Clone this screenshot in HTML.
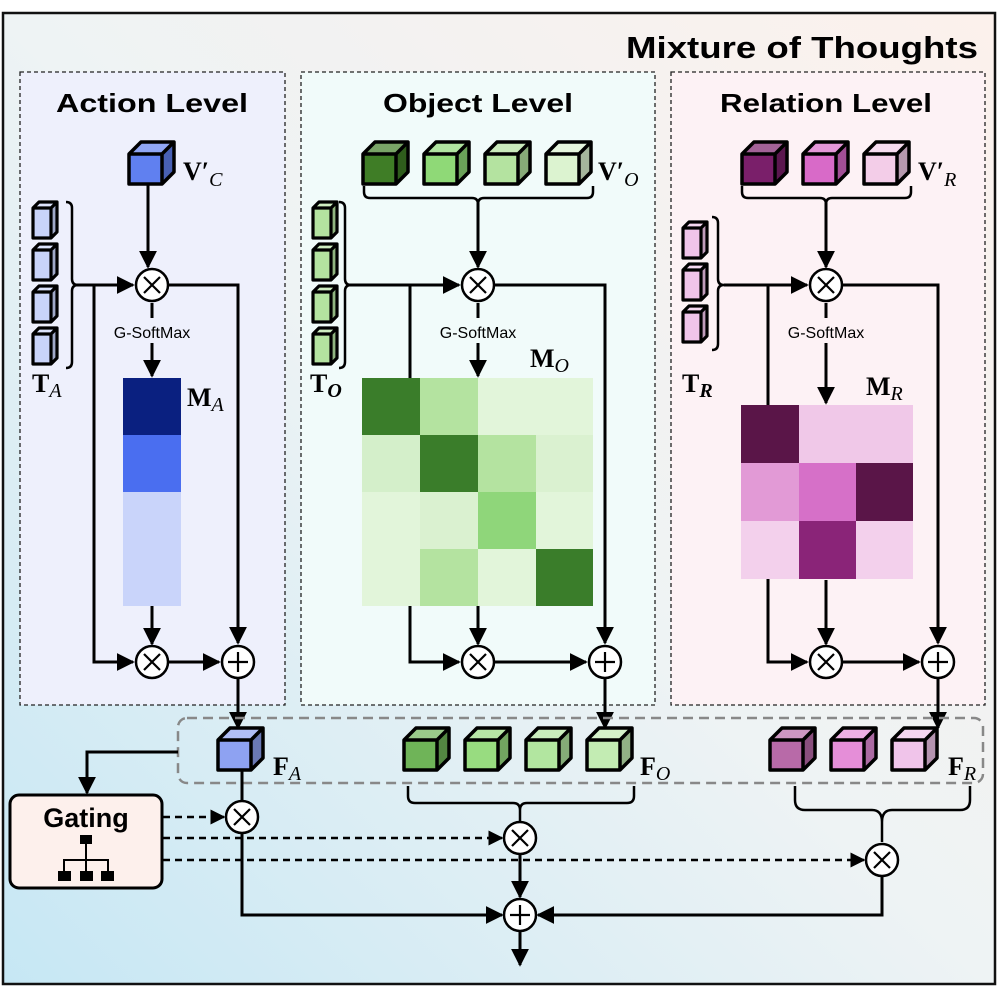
<!DOCTYPE html>
<html><head><meta charset="utf-8"><style>html,body{margin:0;padding:0;background:#fff}svg{display:block}</style></head>
<body>
<svg width="998" height="998" viewBox="0 0 998 998" xmlns="http://www.w3.org/2000/svg" font-family="Liberation Sans, sans-serif">
<defs>
<linearGradient id="bg" x1="1" y1="0" x2="0" y2="1">
<stop offset="0" stop-color="#fcf1ec"/><stop offset="0.5" stop-color="#eef3f4"/><stop offset="1" stop-color="#c6e7f4"/>
</linearGradient>
<marker id="ar" viewBox="0 0 10 10" refX="9" refY="5" markerWidth="6" markerHeight="6" orient="auto"><path d="M0,0L10,5L0,10z" fill="#000"/></marker>
<symbol id="cube" overflow="visible">
<path d="M0,12 L12,0 L45,0 L33,12z" fill="currentColor"/>
<path d="M0,12 L12,0 L45,0 L33,12z" fill="#fff" opacity="0.3"/>
<path d="M33,12 L45,0 L45,30 L33,42z" fill="currentColor"/>
<path d="M33,12 L45,0 L45,30 L33,42z" fill="#000" opacity="0.25"/>
<rect x="0" y="12" width="33" height="30" fill="currentColor"/>
<path d="M0,12 L12,0 L45,0 L45,30 L33,42 L0,42z M0,12 L33,12 L45,0 M33,12 L33,42" fill="none" stroke="#000" stroke-width="3.5" stroke-linejoin="round"/>
</symbol>
<symbol id="tc" overflow="visible">
<path d="M0,6 L6,0 L24,0 L18,6z" fill="currentColor"/>
<path d="M0,6 L6,0 L24,0 L18,6z" fill="#fff" opacity="0.35"/>
<path d="M18,6 L24,0 L24,30 L18,36z" fill="currentColor"/>
<path d="M18,6 L24,0 L24,30 L18,36z" fill="#000" opacity="0.2"/>
<rect x="0" y="6" width="18" height="30" fill="currentColor"/>
<path d="M0,6 L6,0 L24,0 L24,30 L18,36 L0,36z M0,6 L18,6 L24,0 M18,6 L18,36" fill="none" stroke="#000" stroke-width="3.2" stroke-linejoin="round"/>
</symbol>
<symbol id="ot" overflow="visible"><circle cx="0" cy="0" r="16" fill="#fff" stroke="#000" stroke-width="2.5"/><path d="M-8,-8L8,8M8,-8L-8,8" stroke="#000" stroke-width="2.2"/></symbol>
<symbol id="op" overflow="visible"><circle cx="0" cy="0" r="16" fill="#fff" stroke="#000" stroke-width="2.5"/><path d="M-10,0H10M0,-10V10" stroke="#000" stroke-width="2.2"/></symbol>
</defs>
<rect x="3" y="13" width="992" height="971" fill="url(#bg)" stroke="#111" stroke-width="2.5"/>
<text x="978" y="58" font-size="31" font-weight="bold" text-anchor="end" textLength="352" lengthAdjust="spacingAndGlyphs">Mixture of Thoughts</text>

<rect x="20" y="72" width="265" height="633" fill="#eef0fc" stroke="#222" stroke-width="1.3" stroke-dasharray="4,3"/>
<rect x="301" y="72" width="354" height="633" fill="#f1fbfa" stroke="#222" stroke-width="1.3" stroke-dasharray="4,3"/>
<rect x="671" y="72" width="314" height="633" fill="#fdf2f5" stroke="#222" stroke-width="1.3" stroke-dasharray="4,3"/>
<g font-size="26" font-weight="bold" text-anchor="middle">
<text x="152" y="112" textLength="192" lengthAdjust="spacingAndGlyphs">Action Level</text>
<text x="478" y="112" textLength="190" lengthAdjust="spacingAndGlyphs">Object Level</text>
<text x="826" y="112" textLength="212" lengthAdjust="spacingAndGlyphs">Relation Level</text>
</g>

<g stroke="#000" stroke-width="3" fill="none">
<line x1="148" y1="185" x2="148" y2="267" marker-end="url(#ar)"/>
<path d="M76,285 H133" marker-end="url(#ar)"/>
<path d="M94,285 V662 H133" marker-end="url(#ar)"/>
<path d="M169,285 H238 V643" marker-end="url(#ar)"/>
<line x1="152" y1="303" x2="152" y2="318" />
<line x1="152" y1="343" x2="152" y2="376" marker-end="url(#ar)"/>
<line x1="152" y1="606" x2="152" y2="644" marker-end="url(#ar)"/>
<line x1="169" y1="662" x2="219" y2="662" marker-end="url(#ar)"/>
<line x1="238" y1="679" x2="238" y2="728" marker-end="url(#ar)"/>
<line x1="478" y1="200" x2="478" y2="267" marker-end="url(#ar)"/>
<path d="M346,285 H459" marker-end="url(#ar)"/>
<path d="M410,285 V662 H459" marker-end="url(#ar)"/>
<path d="M495,285 H605 V643" marker-end="url(#ar)"/>
<line x1="478" y1="303" x2="478" y2="318"/>
<line x1="478" y1="343" x2="478" y2="376" marker-end="url(#ar)"/>
<line x1="478" y1="606" x2="478" y2="644" marker-end="url(#ar)"/>
<line x1="495" y1="662" x2="586" y2="662" marker-end="url(#ar)"/>
<line x1="605" y1="679" x2="605" y2="728" marker-end="url(#ar)"/>
<line x1="826" y1="200" x2="826" y2="267" marker-end="url(#ar)"/>
<path d="M724,285 H807" marker-end="url(#ar)"/>
<path d="M768,285 V662 H807" marker-end="url(#ar)"/>
<path d="M843,285 H938 V643" marker-end="url(#ar)"/>
<line x1="826" y1="303" x2="826" y2="318"/>
<line x1="826" y1="343" x2="826" y2="403" marker-end="url(#ar)"/>
<line x1="826" y1="580" x2="826" y2="644" marker-end="url(#ar)"/>
<line x1="843" y1="662" x2="919" y2="662" marker-end="url(#ar)"/>
<line x1="938" y1="679" x2="938" y2="728" marker-end="url(#ar)"/>
<path d="M66,202 Q72,202 72,208 V279 Q72,285 78,285 Q72,285 72,291 V362 Q72,368 66,368" stroke-width="2.5"/>
<path d="M339,202 Q345,202 345,208 V279 Q345,285 351,285 Q345,285 345,291 V362 Q345,368 339,368" stroke-width="2.5"/>
<path d="M712,217 Q718,217 718,223 V279 Q718,285 724,285 Q718,285 718,291 V344 Q718,350 712,350" stroke-width="2.5"/>
<path d="M364,186 V192 Q364,198 370,198 H472 Q478,198 478,204 Q478,198 484,198 H587 Q593,198 593,192 V186" stroke-width="2.5"/>
<path d="M742,186 V192 Q742,198 748,198 H820 Q826,198 826,204 Q826,198 832,198 H905 Q911,198 911,192 V186" stroke-width="2.5"/>
</g>

<g font-size="16" text-anchor="middle"><text x="152" y="338">G-SoftMax</text><text x="478" y="338">G-SoftMax</text><text x="826" y="338">G-SoftMax</text></g>

<rect x="123" y="378" width="58" height="57" fill="#0a2080"/>
<rect x="123" y="435" width="58" height="57" fill="#4a6ef0"/>
<rect x="123" y="492" width="58" height="114" fill="#c9d4fa"/>
<g>
<rect x="362" y="378" width="58" height="57" fill="#3a7d2a"/><rect x="420" y="378" width="58" height="57" fill="#b4e3a0"/><rect x="478" y="378" width="58" height="57" fill="#e2f5da"/><rect x="536" y="378" width="57" height="57" fill="#e2f5da"/>
<rect x="362" y="435" width="58" height="57" fill="#d4efca"/><rect x="420" y="435" width="58" height="57" fill="#3a7d2a"/><rect x="478" y="435" width="58" height="57" fill="#b4e3a0"/><rect x="536" y="435" width="57" height="57" fill="#daf1d0"/>
<rect x="362" y="492" width="58" height="57" fill="#e2f5da"/><rect x="420" y="492" width="58" height="57" fill="#daf1d0"/><rect x="478" y="492" width="58" height="57" fill="#8fd67a"/><rect x="536" y="492" width="57" height="57" fill="#e2f5da"/>
<rect x="362" y="549" width="58" height="57" fill="#e2f5da"/><rect x="420" y="549" width="58" height="57" fill="#b4e3a0"/><rect x="478" y="549" width="58" height="57" fill="#e2f5da"/><rect x="536" y="549" width="57" height="57" fill="#3a7d2a"/>
</g>
<g>
<rect x="741" y="405" width="58" height="58" fill="#5a1548"/><rect x="799" y="405" width="57" height="58" fill="#f0c8e8"/><rect x="856" y="405" width="57" height="58" fill="#f0c8e8"/>
<rect x="741" y="463" width="58" height="58" fill="#e29ad6"/><rect x="799" y="463" width="57" height="58" fill="#d670c8"/><rect x="856" y="463" width="57" height="58" fill="#5a1548"/>
<rect x="741" y="521" width="58" height="58" fill="#f3d0ec"/><rect x="799" y="521" width="57" height="58" fill="#8a2478"/><rect x="856" y="521" width="57" height="58" fill="#f3d0ec"/>
</g>

<use href="#cube" x="129" y="142" color="#6080f0"/>
<use href="#cube" x="363" y="142" color="#3f7d26"/>
<use href="#cube" x="424" y="142" color="#8fd977"/>
<use href="#cube" x="485" y="142" color="#b4e3a0"/>
<use href="#cube" x="546" y="142" color="#dcf3d0"/>
<use href="#cube" x="742" y="142" color="#7a1f6a"/>
<use href="#cube" x="803" y="142" color="#d86ac8"/>
<use href="#cube" x="864" y="142" color="#f3cde8"/>
<g color="#c9d4fa"><use href="#tc" x="33" y="202"/><use href="#tc" x="33" y="244"/><use href="#tc" x="33" y="286"/><use href="#tc" x="33" y="328"/></g>
<g color="#b4e3a0"><use href="#tc" x="313" y="202"/><use href="#tc" x="313" y="244"/><use href="#tc" x="313" y="286"/><use href="#tc" x="313" y="328"/></g>
<g color="#f0c4ea"><use href="#tc" x="683" y="222"/><use href="#tc" x="683" y="264"/><use href="#tc" x="683" y="306"/></g>

<g font-family="Liberation Serif, serif" font-weight="bold" font-size="26">
<text x="183" y="180">V′<tspan font-size="20" font-style="italic" font-weight="normal" dy="6">C</tspan></text>
<text x="598" y="180">V′<tspan font-size="20" font-style="italic" font-weight="normal" dy="6">O</tspan></text>
<text x="918" y="180">V′<tspan font-size="20" font-style="italic" font-weight="normal" dy="6">R</tspan></text>
<text x="32" y="392">T<tspan font-size="20" font-style="italic" font-weight="normal" dy="5">A</tspan></text>
<text x="310" y="392">T<tspan font-size="20" font-style="italic" dy="5">O</tspan></text>
<text x="682" y="392">T<tspan font-size="20" font-style="italic" dy="5">R</tspan></text>
<text x="187" y="406">M<tspan font-size="20" font-style="italic" font-weight="normal" dy="5">A</tspan></text>
<text x="530" y="367">M<tspan font-size="20" font-style="italic" font-weight="normal" dy="5">O</tspan></text>
<text x="866" y="395">M<tspan font-size="20" font-style="italic" font-weight="normal" dy="5">R</tspan></text>
<text x="273" y="775">F<tspan font-size="20" font-style="italic" font-weight="normal" dy="5">A</tspan></text>
<text x="640" y="775">F<tspan font-size="20" font-style="italic" font-weight="normal" dy="5">O</tspan></text>
<text x="948" y="775">F<tspan font-size="20" font-style="italic" font-weight="normal" dy="5">R</tspan></text>
</g>

<use href="#ot" x="152" y="285"/><use href="#ot" x="478" y="285"/><use href="#ot" x="826" y="285"/>
<use href="#ot" x="152" y="662"/><use href="#ot" x="478" y="662"/><use href="#ot" x="826" y="662"/>
<use href="#op" x="238" y="662"/><use href="#op" x="605" y="662"/><use href="#op" x="938" y="662"/>

<rect x="178" y="718" width="805" height="65" rx="9" fill="none" stroke="#888" stroke-width="2.5" stroke-dasharray="10,6"/>
<g stroke="#000" stroke-width="3" fill="none">
<path d="M178,752 H87 V793" marker-end="url(#ar)"/>
<line x1="242" y1="768" x2="242" y2="801"/>
<path d="M242,833 V915 H502" marker-end="url(#ar)"/>
<line x1="520" y1="855" x2="520" y2="897" marker-end="url(#ar)"/>
<path d="M882,875 V915 H538" marker-end="url(#ar)"/>
<line x1="520" y1="932" x2="520" y2="965" marker-end="url(#ar)"/>
<path d="M408,786 V796 Q408,803 415,803 H513 Q520,803 520,810 V822 M520,810 Q520,803 527,803 H627 Q634,803 634,796 V786" stroke-width="2.5"/>
<path d="M795,786 V800 Q795,810 805,810 H872 Q882,810 882,822 V842 M882,822 Q882,810 892,810 H960 Q970,810 970,800 V786" stroke-width="2.5"/>
<g stroke-dasharray="7,5" stroke-width="2.5">
<line x1="163" y1="817" x2="224" y2="817" marker-end="url(#ar)"/>
<line x1="163" y1="838" x2="502" y2="838" marker-end="url(#ar)"/>
<line x1="163" y1="860" x2="864" y2="860" marker-end="url(#ar)"/>
</g>
</g>
<use href="#cube" x="218" y="728" color="#8ea2f2"/>
<use href="#cube" x="404" y="728" color="#6fb458"/>
<use href="#cube" x="465" y="728" color="#98dc80"/>
<use href="#cube" x="526" y="728" color="#b2e6a0"/>
<use href="#cube" x="587" y="728" color="#c3ecb3"/>
<use href="#cube" x="770" y="728" color="#b86aa8"/>
<use href="#cube" x="831" y="728" color="#e58ed8"/>
<use href="#cube" x="892" y="728" color="#f0c4ea"/>
<use href="#ot" x="242" y="817"/><use href="#ot" x="520" y="838"/><use href="#ot" x="882" y="860"/>
<use href="#op" x="520" y="915"/>

<rect x="10" y="795" width="152" height="93" rx="9" fill="#fdf0ec" stroke="#000" stroke-width="3"/>
<text x="86" y="827" font-size="27" font-weight="bold" text-anchor="middle">Gating</text>
<g fill="#000"><rect x="80" y="835" width="12" height="9"/><rect x="58" y="871" width="13" height="10"/><rect x="80" y="871" width="13" height="10"/><rect x="101" y="871" width="13" height="10"/></g>
<path d="M86,844 V871 M64,871 V860 H108 V871" stroke="#000" stroke-width="2" fill="none"/>
</svg>
</body></html>
